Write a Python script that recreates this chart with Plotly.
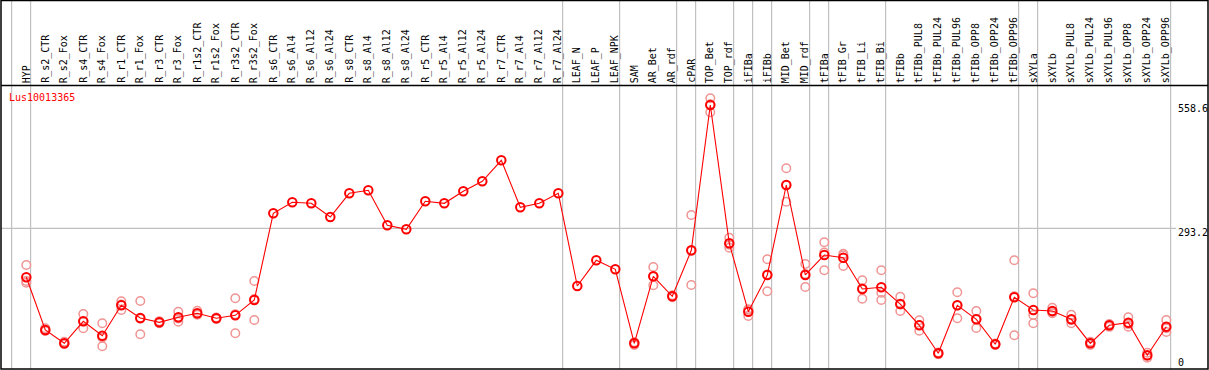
import plotly.graph_objects as go

W, H = 1209, 370

labels = ["HYP", "R_s2_CTR", "R_s2_Fox", "R_s4_CTR", "R_s4_Fox", "R_r1_CTR", "R_r1_Fox",
          "R_r3_CTR", "R_r3_Fox", "R_r1s2_CTR", "R_r1s2_Fox", "R_r3s2_CTR", "R_r3s2_Fox",
          "R_s6_CTR", "R_s6_Al4", "R_s6_Al12", "R_s6_Al24", "R_s8_CTR", "R_s8_Al4", "R_s8_Al12",
          "R_s8_Al24", "R_r5_CTR", "R_r5_Al4", "R_r5_Al12", "R_r5_Al24", "R_r7_CTR", "R_r7_Al4",
          "R_r7_Al12", "R_r7_Al24", "LEAF_N", "LEAF_P", "LEAF_NPK", "SAM", "AR_Bet", "AR_rdf",
          "cPAR", "TOP_Bet", "TOP_rdf", "iFIBa", "iFIBb", "MID_Bet", "MID_rdf", "tFIBa",
          "tFIB_Gr", "tFIB_Li", "tFIB_Bi", "tFIBb", "tFIBb_PUL8", "tFIBb_PUL24", "tFIBb_PUL96",
          "tFIBb_OPP8", "tFIBb_OPP24", "tFIBb_OPP96", "sXYLa", "sXYLb", "sXYLb_PUL8",
          "sXYLb_PUL24", "sXYLb_PUL96", "sXYLb_OPP8", "sXYLb_OPP24", "sXYLb_OPP96"]

means = [187.7, 74.3, 45.6, 93.0, 62.0, 127.4, 100.1, 90.8, 101.6, 110.2, 99.5, 105.9, 138.8,
         325.5, 349.2, 347.0, 317.5, 368.5, 375.0, 299.6, 291.0, 351.3, 347.0, 372.8, 394.4,
         439.6, 338.4, 347.0, 368.5, 169.0, 224.3, 204.9, 45.6, 189.9, 146.8, 245.8, 558.6,
         260.9, 113.7, 192.7, 386.4, 192.7, 235.7, 229.9, 162.5, 166.2, 130.2, 84.4, 24.1,
         127.4, 97.3, 43.5, 144.7, 117.3, 115.2, 97.3, 45.6, 84.4, 90.0, 19.8, 81.4]

rep_a = [214.2, 78, 49, 108.7, 88.7, 136, 136.7, 93, 113.7, 115.8, 101, 142.5, 179.7,
         None, None, None, None, None, None, None, None, None, None, None, None, None, None,
         None, None, None, None, None, 48, 209.9, 149, 321.8, 573, 273, 118.8, 226.5, 422.4,
         216.3, 263, 238.5, 181.3, 202.8, 146, 95.1, 26, 155.4, 115.2, 45, 224.3, 153.3, 122.3,
         107.2, 49, 87, 101.6, 25.4, 95.8]
rep_b = [179.7, 72, 44, 77.9, 39.2, 117.3, 65, 89, 92.1, 108, 98, 67.2, 95.8,
         None, None, None, None, None, None, None, None, None, None, None, None, None, None,
         None, None, None, None, None, 42, 170.5, 145, 171.1, 542.9, 251.4, 104.4, 157.6, 350.5,
         166.8, 202.8, 235, 141.7, 154.6, 115.2, 72.8, 22, 99.5, 78.6, 42, 62.9, 106.6, 110.2,
         88.7, 42, 81, 81.4, 14.6, 70]
rep_c = [176.1, 73, 44, 92.4, 58, 129, 98.6, 90.5, 99, 107, 99.5, 108, 141,
         None, None, None, None, None, None, None, None, None, None, None, None, None, None,
         None, None, None, None, None, 47, 189, 146.5, 244.5, 560, 258, 118, 194, 386,
         195, 241, 212, 164, 138.8, 129, 85, 24, 127, 98, 43.5, 147, 88.7, 113,
         96, 46, 85, 87, 19, 78]

gene = "Lus10013365"
tick_labels = ["558.6", "293.2", "0"]
ref_value = 293.2

boundaries = [-1, 0, 28, 31, 34, 35, 37, 38, 39, 41, 42, 45, 52, 53, 60]

# pixel mapping helpers (layout only)
x0px, dxpx = 26.3, 19.0
y0px, vpp = 364.5, 2.1527
xr = [-x0px / dxpx, (W - x0px) / dxpx]
yr = [-(H - y0px) * vpp, y0px * vpp]

def px(x):
    return x / W

def py(y):
    return 1 - y / H

n = len(labels)
xs = list(range(n))

fig = go.Figure()

rx, ry = [], []
for reps in (rep_a, rep_b, rep_c):
    for i, v in enumerate(reps):
        if v is not None:
            rx.append(i)
            ry.append(v)

fig.add_trace(go.Scatter(x=rx, y=ry, mode="markers",
                         marker=dict(symbol="circle-open", size=8.5, color="#f09494",
                                     line=dict(width=1.5, color="#f09494")),
                         hoverinfo="skip", showlegend=False))
fig.add_trace(go.Scatter(x=xs, y=means, mode="lines+markers",
                         line=dict(color="#ff0000", width=1.1),
                         marker=dict(symbol="circle-open", size=8.5, color="#ff0000",
                                     line=dict(width=2, color="#ff0000")),
                         showlegend=False))

shapes = []
for b in boundaries:
    xpx = x0px + dxpx * b + 4.3
    shapes.append(dict(type="line", xref="paper", yref="paper",
                       x0=px(xpx), x1=px(xpx), y0=py(0), y1=py(369),
                       line=dict(color="#c0c0c0", width=1.2), layer="below"))
shapes.append(dict(type="line", xref="paper", yref="y", x0=px(1), x1=px(1176),
                   y0=ref_value, y1=ref_value, line=dict(color="#c0c0c0", width=1.2),
                   layer="below"))
shapes.append(dict(type="rect", xref="paper", yref="paper", x0=px(1), x1=px(1208),
                   y0=py(369), y1=py(0.5), line=dict(color="black", width=1.5)))
shapes.append(dict(type="line", xref="paper", yref="paper", x0=px(1), x1=px(1208),
                   y0=py(85.5), y1=py(85.5), line=dict(color="black", width=1.5)))

annotations = []
mono = "DejaVu Sans Mono"
for i, lab in enumerate(labels):
    annotations.append(dict(x=i, y=py(84), xref="x", yref="paper", text=lab,
                            textangle=-90, showarrow=False, xanchor="center",
                            yanchor="bottom", borderpad=0,
                            font=dict(family=mono, size=10, color="black")))
annotations.append(dict(x=px(8), y=py(97), xref="paper", yref="paper", text=gene,
                        showarrow=False, xanchor="left", yanchor="middle", borderpad=0,
                        font=dict(family=mono, size=10, color="#ff0000")))
for t, ypix in zip(tick_labels, [108, 232, 362]):
    annotations.append(dict(x=px(1177), y=py(ypix), xref="paper", yref="paper", text=t,
                            showarrow=False, xanchor="left", yanchor="middle", borderpad=0,
                            font=dict(family=mono, size=10, color="black")))

fig.update_layout(
    width=W, height=H, autosize=False,
    margin=dict(l=0, r=0, t=0, b=0, pad=0),
    paper_bgcolor="white", plot_bgcolor="white",
    xaxis=dict(range=xr, visible=False, fixedrange=True),
    yaxis=dict(range=yr, visible=False, fixedrange=True),
    shapes=shapes, annotations=annotations,
)

fig.write_html("out.html", config={"displayModeBar": False},
               post_script="document.body.style.margin='0px';document.body.style.overflow='hidden';")
